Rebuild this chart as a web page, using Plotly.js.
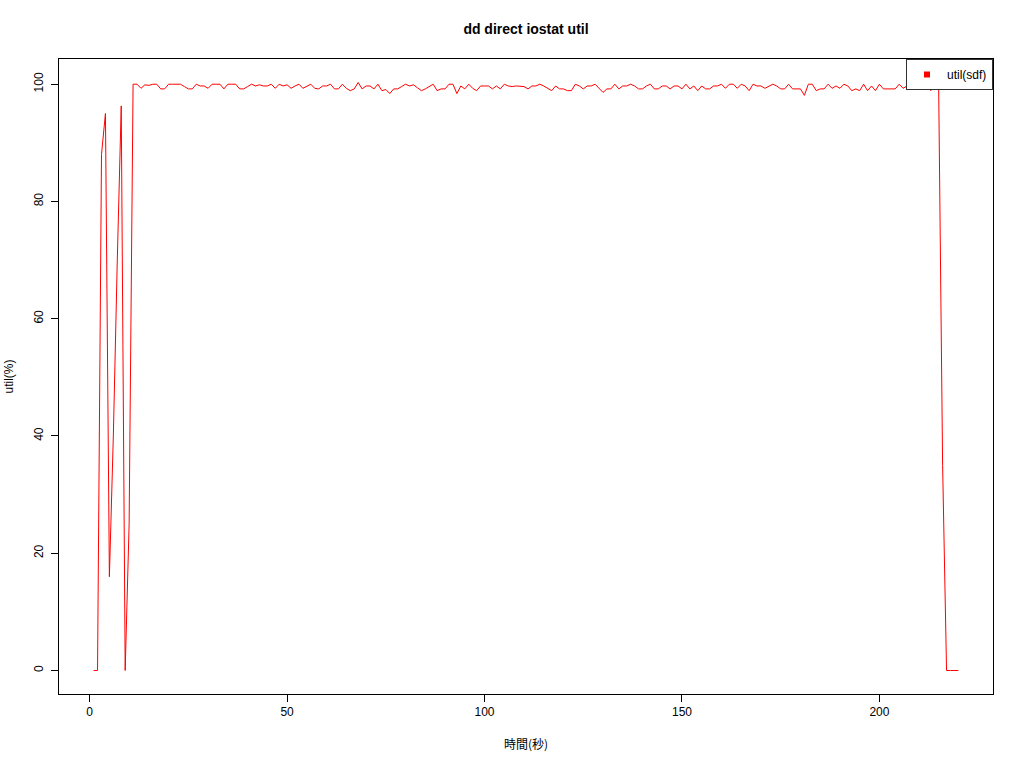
<!DOCTYPE html>
<html>
<head>
<meta charset="utf-8">
<script src="https://cdn.plot.ly/plotly-3.0.1.min.js"></script>
<style>
html,body{margin:0;padding:0;background:#fff;}
#chart{width:1024px;height:768px;}
</style>
</head>
<body>
<div id="chart"></div>
<script>
// time in seconds
const seconds = [
  1,2,3,4,5,6,7,8,9,10,11,12,13,14,15,16,17,18,19,20,
  21,22,23,24,25,26,27,28,29,30,31,32,33,34,35,36,37,38,39,40,
  41,42,43,44,45,46,47,48,49,50,51,52,53,54,55,56,57,58,59,60,
  61,62,63,64,65,66,67,68,69,70,71,72,73,74,75,76,77,78,79,80,
  81,82,83,84,85,86,87,88,89,90,91,92,93,94,95,96,97,98,99,100,
  101,102,103,104,105,106,107,108,109,110,111,112,113,114,115,116,117,118,119,120,
  121,122,123,124,125,126,127,128,129,130,131,132,133,134,135,136,137,138,139,140,
  141,142,143,144,145,146,147,148,149,150,151,152,153,154,155,156,157,158,159,160,
  161,162,163,164,165,166,167,168,169,170,171,172,173,174,175,176,177,178,179,180,
  181,182,183,184,185,186,187,188,189,190,191,192,193,194,195,196,197,198,199,200,
  201,202,203,204,205,206,207,208,209,210,211,212,213,214,215,216,217,218,219,220
];
// util(sdf) in %
const utilSdf = [
  0,0,88,95,16,40,70,96.3,0,25,100,100,99.3,99.9,99.8,100,100,99.2,99.2,100,
  100,100,100,99.6,99.2,99.2,100,99.7,99.7,99.3,100,100,100,99.2,100,100,100,99.2,99.2,99.6,
  100,99.7,99.9,99.7,99.7,100,99.3,100,99.7,99.9,99.3,99.7,100,99.3,99.7,100,99.3,99.2,99.7,99.7,
  100,99.2,99.2,100,99.3,98.9,99.2,100.3,99.2,99.7,99.7,99.2,100,98.9,99.1,98.4,99.2,99.2,99.6,100,
  99.7,99.9,99.4,98.9,99.2,99.6,100,98.9,99.2,99.2,100,100,98.4,99.7,99.2,100,99.3,98.9,99.7,99.7,
  99.7,99.2,99.7,99.2,100,99.7,99.6,99.7,99.7,99.6,99.2,99.7,99.7,100,99.7,99.3,98.9,99.7,99.2,99.2,
  98.9,98.9,100,99.7,99.2,99.7,99.7,100,99.2,98.6,99.2,99.2,100,99.2,99.7,99.7,100,99.7,99.2,99.2,
  99.7,100,99.2,99.2,99.7,99.7,99.2,99.7,99.7,99.2,100,99.2,99.7,98.9,99.7,99.2,99.2,99.7,99.7,100,
  99.3,100,100,99.3,100,99.7,98.9,100,99.7,99.7,99.3,99.7,100,99.7,99.2,99.2,100,99.2,99.2,99.2,
  98.1,100,100,98.9,99.2,99.2,100,99.3,99.7,99.3,100,99.7,98.9,99.2,98.9,100,98.9,99.7,98.9,100,
  99.2,99.2,99.2,99.2,100,99.3,99.7,99.7,99.7,100,99.3,99.7,98.9,99.7,99.6,35,0,0,0,0
];
const xTicks = [0, 50, 100, 150, 200];
const yTicks = [0, 20, 40, 60, 80, 100];
const seriesName = "util(sdf)";

const FONT = "Liberation Sans, Arial, Helvetica, sans-serif";

const traces = [
  {
    x: seconds, y: utilSdf, type: "scatter", mode: "lines",
    line: {color: "#ff0000", width: 1}, showlegend: false, hoverinfo: "x+y"
  },
  {
    x: [null], y: [null], type: "scatter", mode: "markers", name: seriesName,
    marker: {symbol: "square", color: "#ff0000", size: 6}, showlegend: true
  }
];

const layout = {
  width: 1024, height: 768,
  paper_bgcolor: "#ffffff", plot_bgcolor: "#ffffff",
  margin: {l: 59, r: 31, t: 59, b: 74, pad: 0},
  font: {family: FONT, size: 12, color: "#000000"},
  title: {
    text: "<b>dd direct iostat util</b>",
    font: {family: FONT, size: 14, color: "#000000"},
    x: 0.5, xref: "paper", xanchor: "center",
    y: 31, yref: "container", yanchor: "middle"
  },
  xaxis: {
    range: [-7.76, 228.76],
    tickvals: xTicks, ticktext: xTicks.map(String),
    ticks: "outside", ticklen: 7, tickcolor: "#000", tickwidth: 1,
    showline: true, mirror: true, linecolor: "#000", linewidth: 1,
    showgrid: false, zeroline: false,
    tickfont: {family: FONT, size: 12, color: "#000"},
    title: {text: "時間(秒)", font: {family: "Noto Sans CJK JP, " + FONT, size: 12, color: "#000"}, standoff: 22}
  },
  yaxis: {
    range: [-4.01, 104.3],
    tickvals: yTicks, ticktext: yTicks.map(String),
    tickangle: -90,
    ticks: "outside", ticklen: 7, tickcolor: "#000", tickwidth: 1,
    ticklabelstandoff: 3,
    showline: true, mirror: true, linecolor: "#000", linewidth: 1,
    showgrid: false, zeroline: false,
    tickfont: {family: FONT, size: 12, color: "#000"},
    title: {text: "util(%)", font: {family: FONT, size: 12, color: "#000"}, standoff: 16}
  },
  showlegend: true,
  legend: {
    x: 1, xanchor: "right", y: 1, yanchor: "top",
    bgcolor: "#ffffff", bordercolor: "#333333", borderwidth: 1,
    font: {family: FONT, size: 12, color: "#000"},
    itemwidth: 30, tracegroupgap: 0
  }
};

Plotly.newPlot("chart", traces, layout, {displayModeBar: false, staticPlot: true});
</script>
</body>
</html>
